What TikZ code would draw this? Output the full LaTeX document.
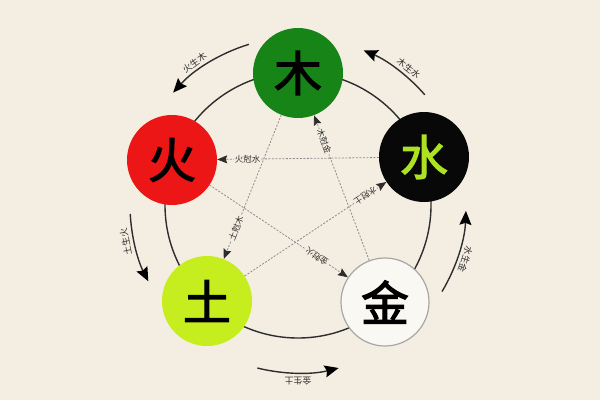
\documentclass[tikz,border=0pt]{standalone}
\usepackage{fontspec}
\newfontfamily\cjk{Noto Sans CJK SC}
\newfontfamily\cjkb{Noto Sans CJK SC}[FakeBold=2.5]
\usetikzlibrary{arrows.meta,calc}
\definecolor{bg}{RGB}{244,238,226}
\definecolor{woodc}{RGB}{22,132,22}
\definecolor{firec}{RGB}{236,22,22}
\definecolor{waterc}{RGB}{8,8,8}
\definecolor{watertext}{RGB}{172,226,34}
\definecolor{earthc}{RGB}{198,238,30}
\definecolor{metalc}{RGB}{250,248,243}
\definecolor{ink}{RGB}{45,45,45}
\tikzset{
  ring/.style={draw=ink, line width=1.4bp},
  elem/.style={circle, minimum size=90bp, inner sep=0pt, font=\cjkb\fontsize{48}{48}\selectfont},
  kline/.style={draw=black!45, line width=0.8bp, dash pattern=on 2bp off 1.5bp},
  ktip/.style={-{Stealth[length=10bp,width=8bp,inset=1.5bp,color=ink]}},
  klabel/.style={fill=bg, inner sep=0.8bp, text=ink, font=\cjk\fontsize{8.5}{8.5}\selectfont},
  outarrow/.style={draw=ink, line width=1.4bp, -{Stealth[length=14bp,width=12bp,inset=2bp,color=black]}},
  olabel/.style={inner sep=0pt, text=ink, font=\cjk\fontsize{9}{9}\selectfont},
}
\begin{document}
\begin{tikzpicture}[x=1bp,y=1bp]
\fill[bg] (0,0) rectangle (600,400);
\useasboundingbox (0,0) rectangle (600,400);
\coordinate (C) at (298,195);
\draw[ring] (C) circle[radius=133];
% elements
\node[elem, fill=woodc] (wood) at (298,327) {木};
\node[elem, fill=firec] (fire) at (172,240) {火};
\node[elem, fill=waterc, text=watertext] (water) at (424,243) {水};
\node[elem, fill=earthc] (earth) at (207,99) {土};
\node[elem, fill=metalc, draw=black!35, line width=1.2bp, minimum size=88bp] (metal) at (385,98) {金};
% inner overcoming lines
\draw[kline, ktip] (water) -- (fire);
\draw[kline, ktip] (wood) -- (earth);
\draw[kline, ktip] (metal) -- (wood);
\draw[kline, ktip] (earth) -- (water);
\draw[kline, ktip] (fire) -- (metal);
\node[klabel] (k1) at ($(fire)!0.3!(water)$) {火尅水};
\node[klabel, rotate=-69.2] (k2) at ($(wood)!0.3!(metal)$) {木尅金};
\node[klabel, rotate=68.2] (k3) at ($(earth)!0.32!(wood)$) {土尅木};
\node[klabel, rotate=213.6] (k4) at ($(water)!0.27!(earth)$) {水尅土};
\node[klabel, rotate=146.3] (k5) at ($(metal)!0.32!(fire)$) {金尅火};
% outer generating arrows
\foreach \s/\e/\la/\t [count=\i] in {107/138/126/火生木, 41/67/51/木生水, -31/-2/-18/水生金, -104/-76/-90/金生土, 183/207/192/土生火} {
  \coordinate (g\i) at ($(C)+(\s:168)$);
  \draw[outarrow] (g\i) arc[start angle=\s, end angle=\e, radius=168];
  \node[olabel, rotate=\la-90] (gl\i) at ($(C)+(\la:176)$) {\t};
}
\end{tikzpicture}
\end{document}
